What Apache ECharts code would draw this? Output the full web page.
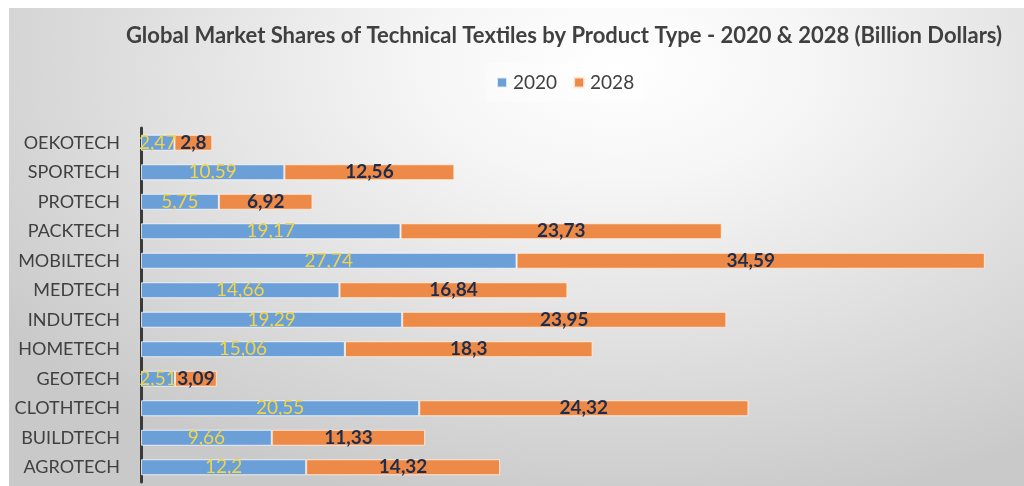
<!DOCTYPE html>
<html>
<head>
<meta charset="utf-8">
<script src="https://cdn.jsdelivr.net/npm/echarts@6/dist/echarts.min.js"></script>
<style>
  html, body { margin: 0; padding: 0; background: #ffffff; }
  #wrap { position: relative; width: 1024px; height: 486px; overflow: hidden; }
  #bg {
    position: absolute; left: 9px; top: 8px; right: 0; bottom: 0;
    background: radial-gradient(ellipse 75% 95% at 60% 12%, #ffffff 0%, #f6f6f6 25%, #e4e4e4 55%, #d2d2d2 85%, #c9c9c9 100%);
  }
  #chart { position: absolute; left: 0; top: 0; width: 1024px; height: 486px; }
</style>
</head>
<body>
<div id="wrap">
  <div id="bg"></div>
  <div id="chart"></div>
</div>
<script>
// Product types, listed top to bottom
const categories = ['OEKOTECH', 'SPORTECH', 'PROTECH', 'PACKTECH', 'MOBILTECH', 'MEDTECH',
                    'INDUTECH', 'HOMETECH', 'GEOTECH', 'CLOTHTECH', 'BUILDTECH', 'AGROTECH'];
// Market size, billion dollars
const values2020 = [2.47, 10.59, 5.75, 19.17, 27.74, 14.66, 19.29, 15.06, 2.51, 20.55, 9.66, 12.2];
const values2028 = [2.8, 12.56, 6.92, 23.73, 34.59, 16.84, 23.95, 18.3, 3.09, 24.32, 11.33, 14.32];
const seriesNames = ['2020', '2028'];

const fontFamily = 'Lato, "Open Sans", sans-serif';
const commaDecimal = p => String(p.value).replace('.', ',');

const chart = echarts.init(document.getElementById('chart'), null, { renderer: 'canvas' });
chart.setOption({
  backgroundColor: 'transparent',
  animation: false,
  title: {
    text: 'Global Market Shares of Technical Textiles by Product Type - 2020 & 2028 (Billion Dollars)',
    left: 559,
    textAlign: 'center',
    top: 20,
    textStyle: { fontFamily, fontSize: 22, fontWeight: 'bold', color: '#404040' }
  },
  legend: {
    data: seriesNames,
    top: 63,
    left: 486,
    itemWidth: 10,
    itemHeight: 10,
    itemGap: 16,
    icon: 'rect',
    padding: [10, 10, 10, 10],
    backgroundColor: 'rgba(255,255,255,0.35)',
    textStyle: { fontFamily, fontSize: 19, color: '#404040', padding: [0, 0, 0, 1] }
  },
  grid: { left: 141, right: 3, top: 128, bottom: 4, containLabel: false },
  xAxis: {
    type: 'value',
    min: 0,
    max: 65,
    show: false,
    splitLine: { show: false }
  },
  yAxis: {
    type: 'category',
    data: categories,
    inverse: true,
    axisLine: { show: true, lineStyle: { color: '#3a3a3a', width: 3 } },
    axisTick: { show: false },
    axisLabel: { fontFamily, fontSize: 18, color: '#404040', margin: 21 }
  },
  series: [
    {
      name: seriesNames[0],
      type: 'bar',
      stack: 'total',
      data: values2020,
      barWidth: 16,
      itemStyle: { color: '#6a9fd8', borderColor: 'rgba(255,255,255,0.75)', borderWidth: 1 },
      label: {
        show: true, position: 'inside', formatter: commaDecimal,
        fontFamily, fontSize: 19, color: '#f5d547'
      }
    },
    {
      name: seriesNames[1],
      type: 'bar',
      stack: 'total',
      data: values2028,
      barWidth: 16,
      itemStyle: { color: '#ee8a47', borderColor: 'rgba(255,240,225,0.85)', borderWidth: 1 },
      label: {
        show: true, position: 'inside', formatter: commaDecimal,
        fontFamily, fontSize: 19, fontWeight: 'bold', color: '#1f2d4d'
      }
    }
  ],
  color: ['#6a9fd8', '#ee8a47']
});
</script>
</body>
</html>
